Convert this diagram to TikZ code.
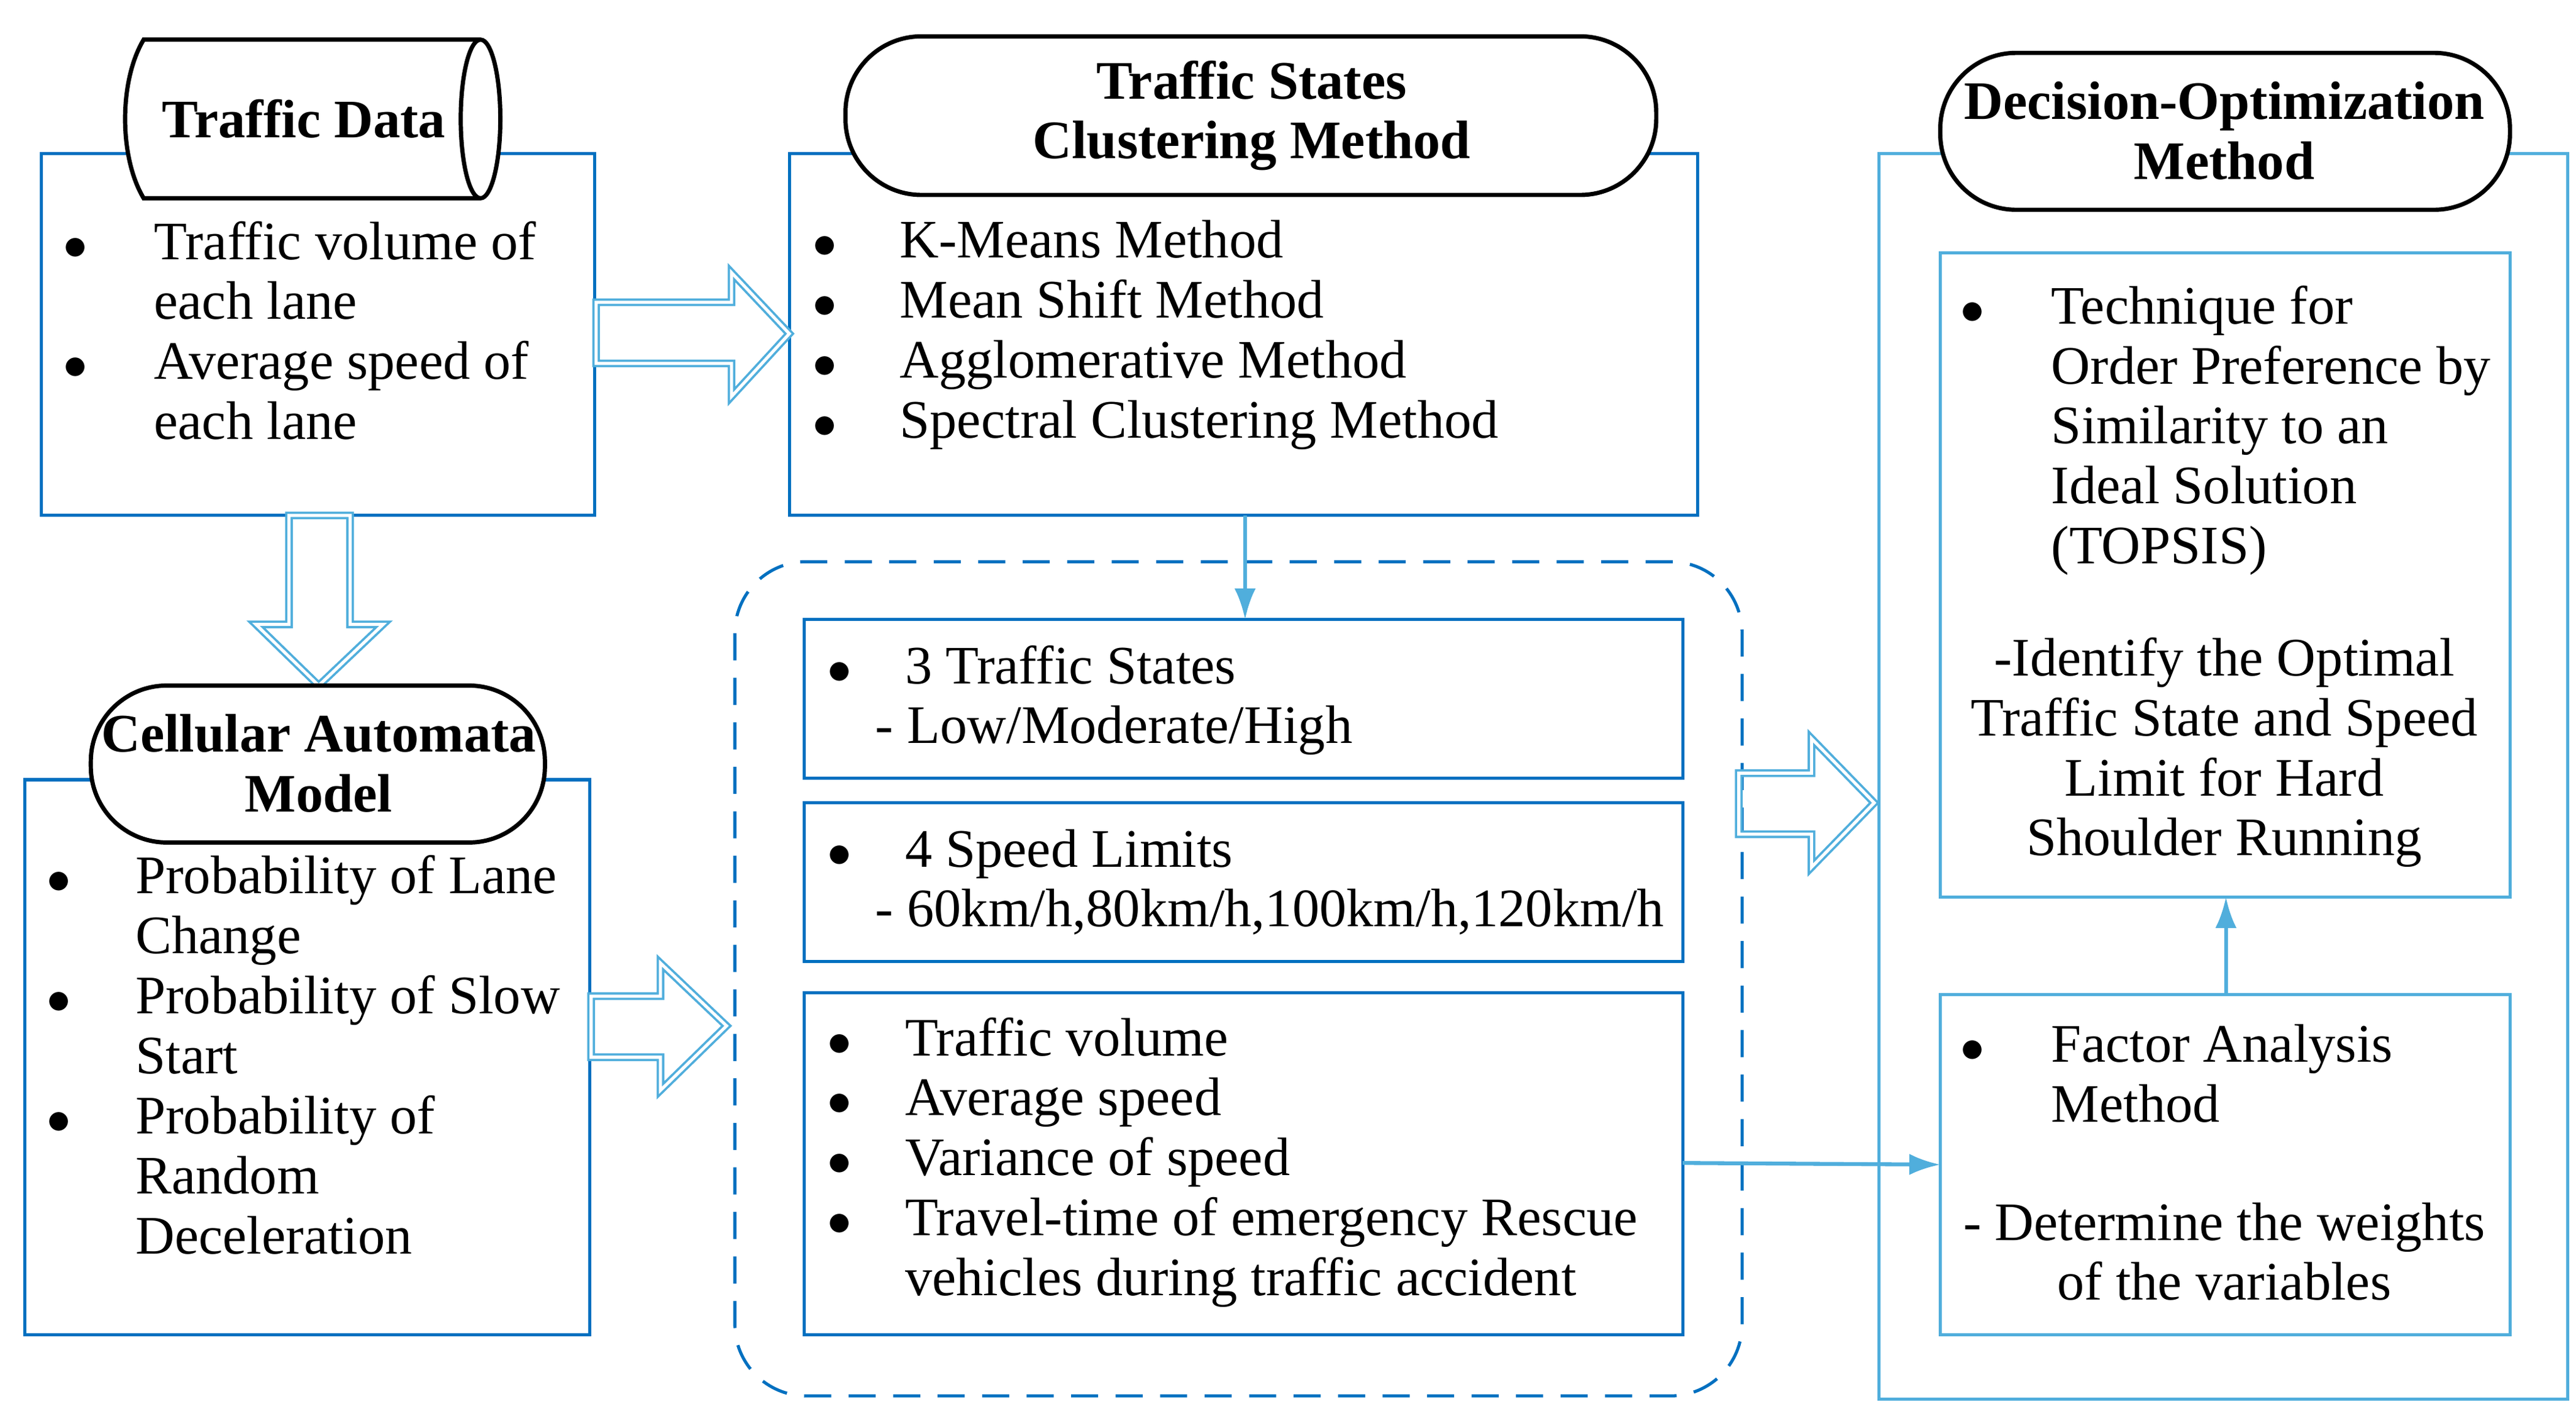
\documentclass[tikz,border=0pt]{standalone}
\usepackage{fontspec}
\setmainfont{Liberation Serif}
\usepackage{array}
\usetikzlibrary{arrows.meta}
\definecolor{dblue}{RGB}{0,112,192}
\definecolor{lblue}{RGB}{80,174,220}
\begin{document}
\begin{tikzpicture}[x=0.03cm,y=-0.03cm,
  box/.style={draw=dblue,line width=1.6pt},
  lbox/.style={draw=lblue,line width=1.6pt},
  pill/.style={draw=black,line width=2.2pt,fill=white,rounded corners=1.38cm},
  hol/.style={draw=lblue,double=white,double distance=1.6pt,line width=1.2pt,line join=miter},
  txt/.style={anchor=base west,inner sep=0pt,font=\fontsize{28}{31}\selectfont},
  ctxt/.style={anchor=base,inner sep=0pt,font=\fontsize{28}{31}\selectfont,align=center},
  htxt/.style={inner sep=0pt,font=\fontsize{28}{31}\selectfont\bfseries,align=center},
  conn/.style={draw=lblue,line width=2pt,-{Latex[length=16pt,width=11pt]}}]
\useasboundingbox (0,0) rectangle (1560,857);
% Traffic data
\draw[box] (25,93) rectangle (360,312);
\filldraw[draw=black,fill=white,line width=2.2pt] (87,24) -- (291,24) arc[start angle=90,end angle=-90,x radius=0.36cm,y radius=1.44cm] -- (87,120) .. controls (72,95) and (72,49) .. (87,24) -- cycle;
\draw[line width=2.2pt] (291,24) arc[start angle=90,end angle=270,x radius=0.36cm,y radius=1.44cm];
\node[htxt] (tdh) at (184,72) {Traffic Data};
\node[txt] (tdt) at (38,157) {\begin{tabular}[t]{@{}p{47pt}@{}l@{}}$\bullet$ & Traffic volume of\\ & each lane\\ $\bullet$ & Average speed of\\ & each lane\end{tabular}};
% clustering
\draw[box] (478,93) rectangle (1028,312);
\coordinate (clb) at (754,312);
\draw[pill] (512,22) rectangle (1003,118);
\node[htxt] (clh) at (758,70) {Traffic States\\Clustering Method};
\node[txt] (clt) at (492,156) {\begin{tabular}[t]{@{}p{45pt}@{}l@{}}$\bullet$ & K-Means Method\\ $\bullet$ & Mean Shift Method\\ $\bullet$ & Agglomerative Method\\ $\bullet$ & Spectral Clustering Method\end{tabular}};
% hollow arrow td->cl
\draw[hol] (361,183) -- (443,183) -- (443,165) -- (478,202) -- (443,240) -- (443,220) -- (361,220) -- cycle;
% hollow down arrow
\draw[hol] (175,312) -- (175,378) -- (155,378) -- (193,415) -- (232,378) -- (212,378) -- (212,312) -- cycle;
% CA
\draw[box] (15,472) rectangle (357,808);
\draw[pill] (55,415) rectangle (330,510);
\node[htxt] (cah) at (193,462) {Cellular Automata\\Model};
\node[txt] (cat) at (28,541) {\begin{tabular}[t]{@{}p{46pt}@{}l@{}}$\bullet$ & Probability of Lane\\ & Change\\ $\bullet$ & Probability of Slow\\ & Start\\ $\bullet$ & Probability of\\ & Random\\ & Deceleration\end{tabular}};
\draw[hol] (358,603) -- (400,603) -- (400,583) -- (440,621) -- (400,660) -- (400,640) -- (358,640) -- cycle;
% dashed
\draw[draw=dblue,line width=1.6pt,dash pattern=on 14pt off 9pt,rounded corners=1.3cm] (445,340) rectangle (1055,845);
\draw[box] (487,375) rectangle (1019,471);
\coordinate (tst) at (754,375);
\node[txt] (tsl) at (501,414) {\begin{tabular}[t]{@{}p{40pt}@{}l@{}}$\bullet$ & 3 Traffic States\end{tabular}};
\node[txt] (tsl2) at (530,450) {- Low/Moderate/High};
\draw[box] (487,486) rectangle (1019,582);
\node[txt] (sll) at (501,525) {\begin{tabular}[t]{@{}p{40pt}@{}l@{}}$\bullet$ & 4 Speed Limits\end{tabular}};
\node[txt] (sll2) at (530,561) {- 60km/h,80km/h,100km/h,120km/h};
\draw[box] (487,601) rectangle (1019,808);
\coordinate (vae) at (1019,704);
\node[txt] (vat) at (501,639) {\begin{tabular}[t]{@{}p{40pt}@{}l@{}}$\bullet$ & Traffic volume\\ $\bullet$ & Average speed\\ $\bullet$ & Variance of speed\\ $\bullet$ & Travel-time of emergency Rescue\\ & vehicles during traffic accident\end{tabular}};
\draw[hol] (1053,468) -- (1097,468) -- (1097,447) -- (1135,486) -- (1097,525) -- (1097,505) -- (1053,505) -- cycle;
% right
\draw[lbox] (1138,93) rectangle (1555,847);
\draw[pill] (1175,32) rectangle (1520,127);
\node[htxt] (doh) at (1347,79) {Decision-Optimization\\Method};
\draw[lbox] (1175,153) rectangle (1520,543);
\coordinate (tpb) at (1348,543);
\node[txt] (tpt) at (1187,196) {\begin{tabular}[t]{@{}p{47pt}@{}l@{}}$\bullet$ & Technique for\\ & Order Preference by\\ & Similarity to an\\ & Ideal Solution\\ & (TOPSIS)\end{tabular}};
\node[ctxt] (tpt2) at (1347,518) {-Identify the Optimal\\Traffic State and Speed\\Limit for Hard\\Shoulder Running};
\draw[lbox] (1175,602) rectangle (1520,808);
\coordinate (fat) at (1348,602);
\coordinate (faw) at (1175,705);
\node[txt] (fal) at (1187,643) {\begin{tabular}[t]{@{}p{47pt}@{}l@{}}$\bullet$ & Factor Analysis\\ & Method\end{tabular}};
\node[ctxt] (fal2) at (1347,787) {- Determine the weights\\of the variables};
% connectors
\draw[conn] (clb) -- (tst);
\draw[conn] (fat) -- (tpb);
\draw[conn] (vae) -- (faw);
\end{tikzpicture}
\end{document}
